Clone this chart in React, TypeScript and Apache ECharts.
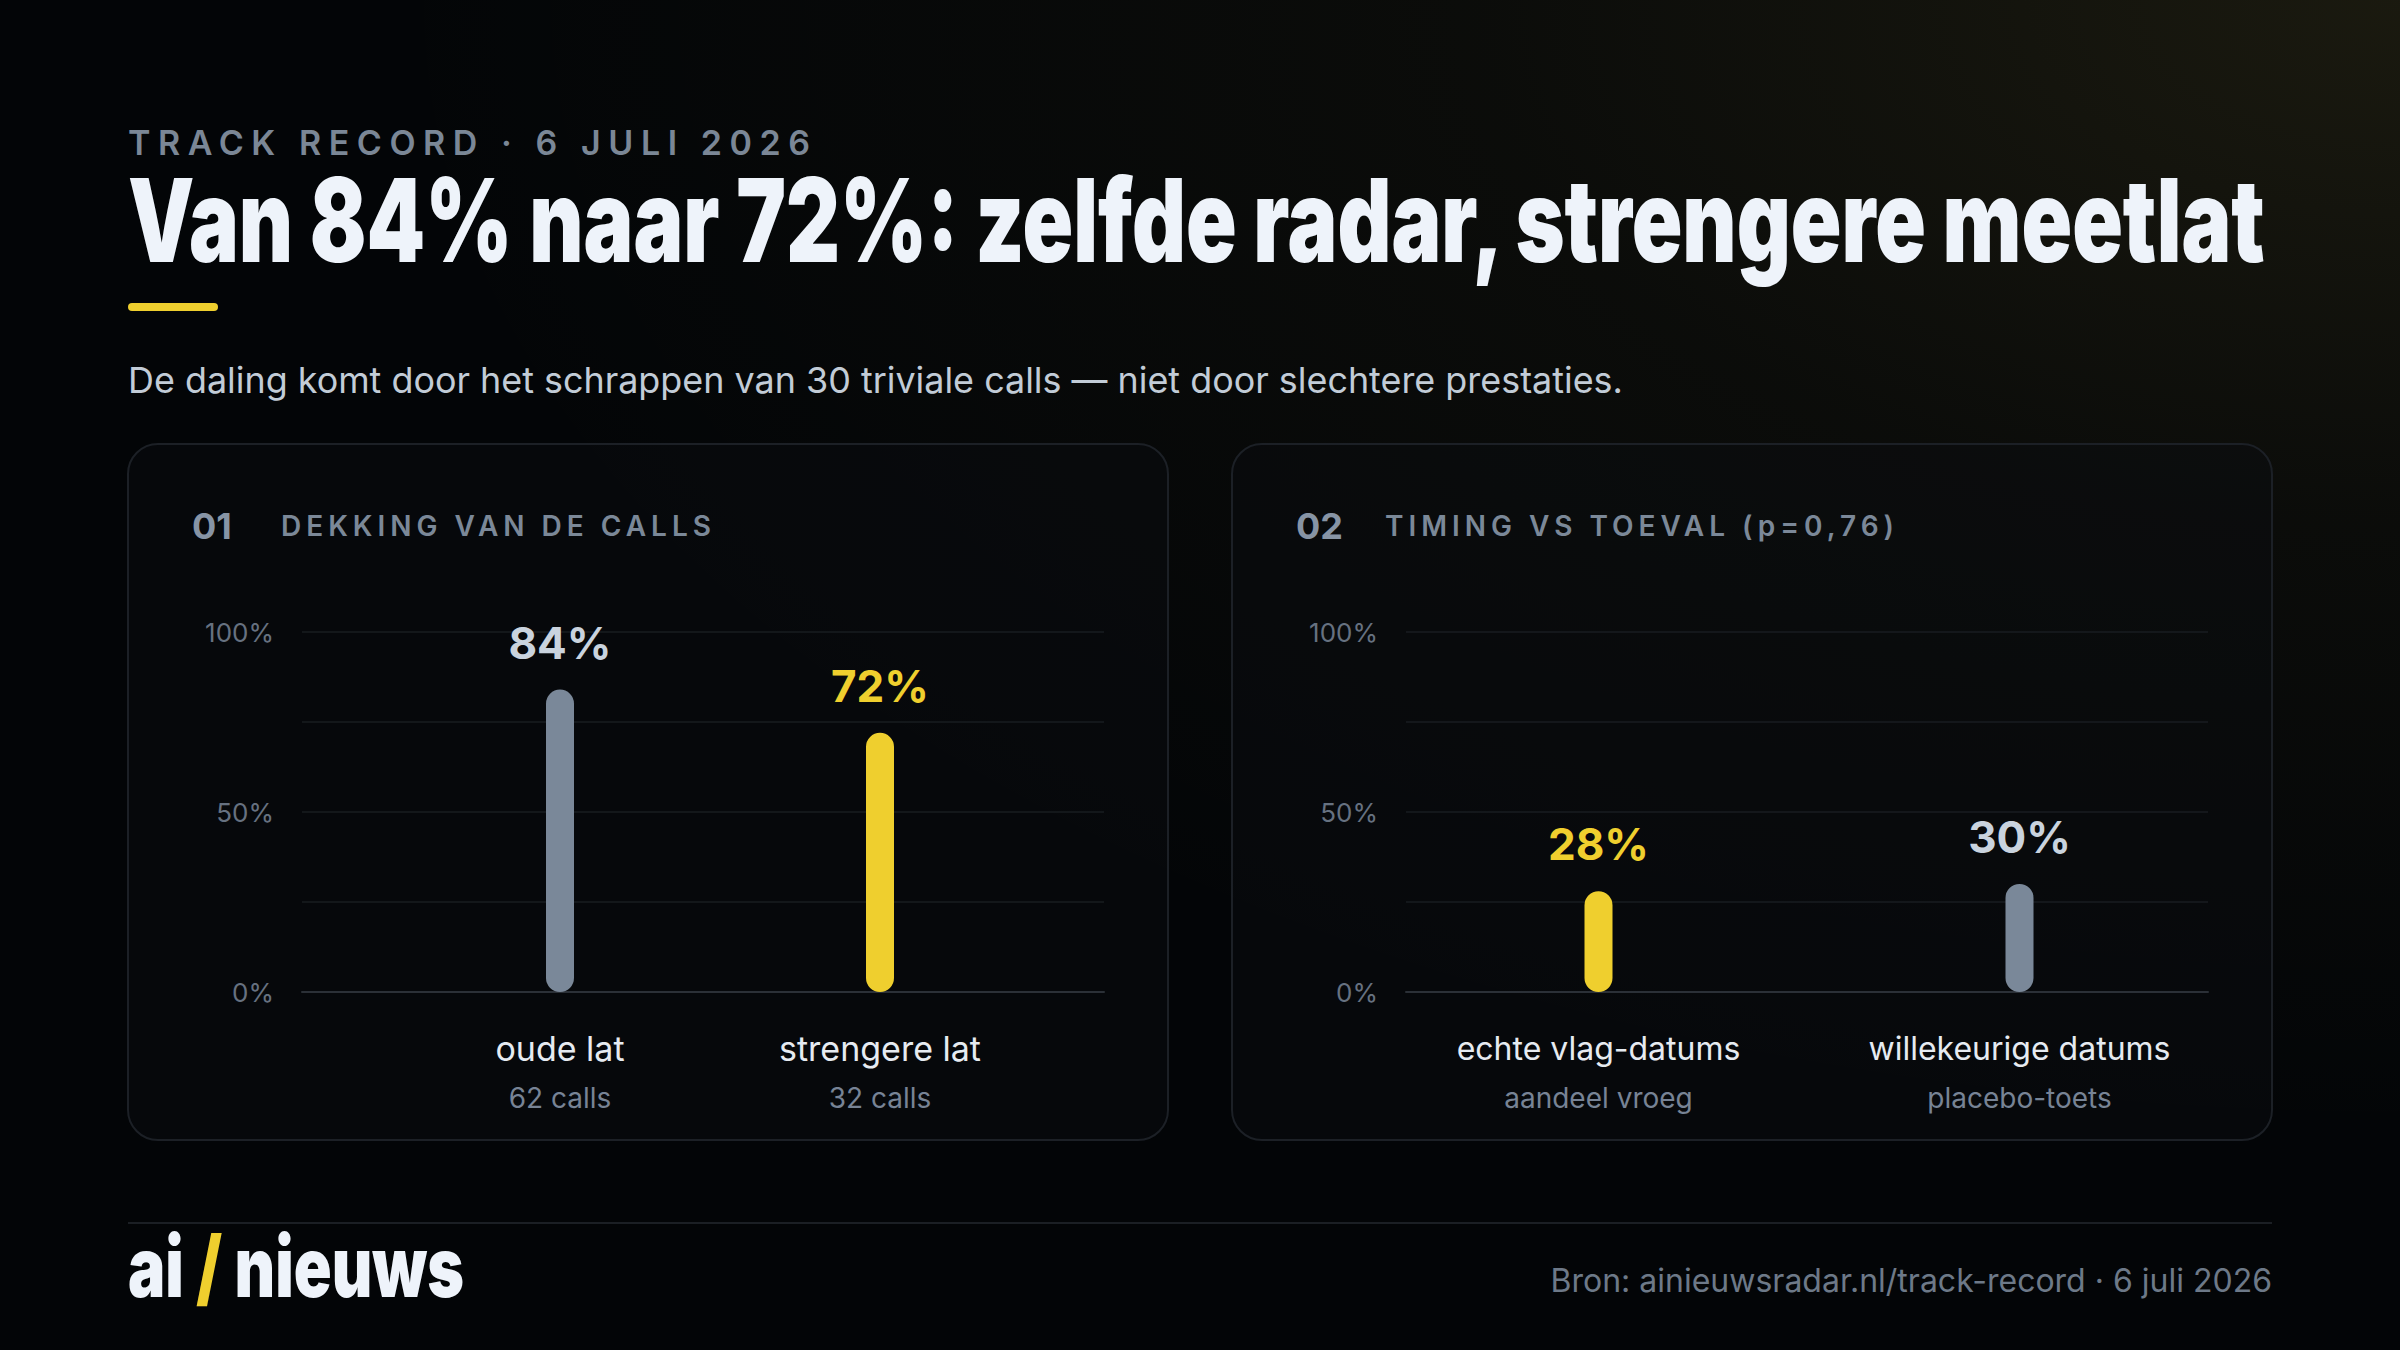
import React, { useEffect, useRef } from 'react';
import * as echarts from 'echarts';

// ---- content ----
const overline = 'TRACK RECORD · 6 JULI 2026';
const headline = 'Van 84% naar 72%: zelfde radar, strengere meetlat';
const subline =
  'De daling komt door het schrappen van 30 triviale calls — niet door slechtere prestaties.';
const sourceLine = 'Bron: ainieuwsradar.nl/track-record · 6 juli 2026';

const panelNumbers = ['01', '02'];
const panelTitles = ['DEKKING VAN DE CALLS', 'TIMING VS TOEVAL (p=0,76)'];

const coverageCategories = ['oude lat', 'strengere lat'];
const coverageNotes = ['62 calls', '32 calls'];
const coverageValues = [84, 72];

const timingCategories = ['echte vlag-datums', 'willekeurige datums'];
const timingNotes = ['aandeel vroeg', 'placebo-toets'];
const timingValues = [28, 30];

const yMin = 0;
const yMax = 100;
const yStep = 25;
const yLabelTicks = [0, 50, 100];

// ---- styling ----
const W = 2400;
const H = 1350;
const FONT = 'Inter, "Noto Sans", sans-serif';
const BG = '#030507';
const YELLOW = '#efcf2e';
const SLATE = '#7a8899';
const SLATE_LABEL = '#c9d3de';
const coverageColors = [SLATE, YELLOW];
const timingColors = [YELLOW, SLATE];

const PANEL_Y = 444;
const PANEL_W = 1040;
const PANEL_H = 696;
const panelXs = [128, 1232];
const PLOT_TOP = 632;
const PLOT_H = 360;
// bar band per panel (left, width)
const barBands = [
  [400, 640],
  [1388, 842],
];
const categoryFontSizes = [34, 32];

const ctx = document.createElement('canvas').getContext('2d')!;
function measure(text: string, font: string) {
  ctx.font = font;
  return ctx.measureText(text).width;
}

function fitSize(text: string, weight: number, base: number, target: number) {
  const w = measure(text, `${weight} ${base}px ${FONT}`);
  return Math.round(base * (target / w) * 10) / 10;
}

export default function App() {
  const ref = useRef<HTMLDivElement>(null);

  useEffect(() => {
    const el = ref.current!;
    const chart = echarts.init(el, undefined, { renderer: 'svg', width: W, height: H });

    const overlineFont = `600 34px ${FONT}`;
    const headerFont = `600 28px ${FONT}`;
    const spaced: Array<[string, string, number]> = [
      [overline, overlineFont, 682],
      [panelTitles[0], headerFont, 430],
      [panelTitles[1], headerFont, 509],
    ];
    const spacing = new Map<string, number>();
    spaced.forEach(([t, f, target]) => {
      const natural = measure(t, f);
      spacing.set(t, (target - natural) / (t.length - 1));
    });

    const titleFont = `900 116px ${FONT}`;
    const titleScale = 2142 / measure(headline, titleFont);
    const logoFont = `900 84px ${FONT}`;
    const logoScale = 336 / measure('ai / nieuws', logoFont);
    const subSize = fitSize(subline, 400, 34, 1497);
    const srcSize = fitSize(sourceLine, 400, 30, 721);

    const text = (x: number, y: number, t: string, font: string, fill: string, align = 'left', extra: any = {}) => ({
      type: 'text',
      x,
      y,
      z: 10,
      silent: true,
      ...extra,
      style: { text: t, font, fill, textAlign: align, textVerticalAlign: 'middle', verticalAlign: 'middle' },
    });

    const graphics: any[] = [
      {
        type: 'rect',
        z: -20,
        silent: true,
        shape: { x: 0, y: 0, width: W, height: H },
        style: { fill: BG },
      },
      {
        type: 'rect',
        z: -19,
        silent: true,
        shape: { x: 0, y: 0, width: W, height: H },
        style: {
          fill: new echarts.graphic.RadialGradient(1, 0, 0.85, [
            { offset: 0, color: 'rgba(235,210,90,0.10)' },
            { offset: 0.45, color: 'rgba(235,210,90,0.035)' },
            { offset: 1, color: 'rgba(235,210,90,0)' },
          ]),
        },
      },
      text(128, 142, overline, overlineFont, '#7b8796'),
      text(128, 220, headline, titleFont, '#eef3fa', 'left', { scaleX: titleScale }),
      {
        type: 'rect',
        z: 10,
        silent: true,
        shape: { x: 128, y: 303, width: 90, height: 8, r: 4 },
        style: { fill: YELLOW },
      },
      text(128, 380, subline, `400 ${subSize}px ${FONT}`, '#c2ccd7'),
      {
        type: 'line',
        z: 10,
        silent: true,
        shape: { x1: 128, y1: 1223, x2: 2272, y2: 1223 },
        style: { stroke: '#1b1f24', lineWidth: 2 },
      },
      {
        type: 'text',
        x: 128,
        y: 1266,
        z: 10,
        silent: true,
        scaleX: logoScale,
        style: {
          text: '{w|ai} {y|/} {w|nieuws}',
          font: logoFont,
          fill: '#eef3fa',
          textAlign: 'left',
          textVerticalAlign: 'middle',
          verticalAlign: 'middle',
          rich: {
            w: { font: logoFont, fill: '#eef3fa' },
            y: { font: logoFont, fill: YELLOW },
          },
        },
      },
      text(2272, 1280, sourceLine, `400 ${srcSize}px ${FONT}`, '#6d7988', 'right'),
    ];

    panelXs.forEach((px, i) => {
      graphics.push({
        type: 'rect',
        z: -10,
        silent: true,
        shape: { x: px, y: PANEL_Y, width: PANEL_W, height: PANEL_H, r: 30 },
        style: { fill: 'rgba(10,13,17,0.45)', stroke: '#1c2026', lineWidth: 2 },
      });
      graphics.push(text(px + 64, 526, panelNumbers[i], `700 36px ${FONT}`, '#8794a5'));
      graphics.push(text(px + 153, 526, panelTitles[i], headerFont, '#7b8898'));
    });

    const panels = [
      { cats: coverageCategories, notes: coverageNotes, values: coverageValues, colors: coverageColors },
      { cats: timingCategories, notes: timingNotes, values: timingValues, colors: timingColors },
    ];

    const grids: any[] = [];
    const xAxes: any[] = [];
    const yAxes: any[] = [];
    const series: any[] = [];

    panels.forEach((p, i) => {
      const px = panelXs[i];
      const backIdx = grids.length;
      // backdrop grid with the value scale and gridlines
      grids.push({ left: px + 174, top: PLOT_TOP, width: 802, height: PLOT_H, containLabel: false });
      xAxes.push({
        gridIndex: backIdx,
        type: 'category',
        data: [''],
        axisLine: { show: true, lineStyle: { color: '#2b3037', width: 2 } },
        axisTick: { show: false },
        axisLabel: { show: false },
        splitLine: { show: false },
      });
      yAxes.push({
        gridIndex: backIdx,
        type: 'value',
        min: yMin,
        max: yMax,
        interval: yStep,
        axisLine: { show: false },
        axisTick: { show: false },
        axisLabel: {
          formatter: (v: number) => (yLabelTicks.includes(v) ? `${v}%` : ''),
          color: '#667180',
          fontSize: 26,
          fontFamily: FONT,
          margin: 28,
        },
        splitLine: { lineStyle: { color: '#181c21', width: 1.5 } },
      });

      // bar grid
      const barIdx = grids.length;
      grids.push({ left: barBands[i][0], top: PLOT_TOP, width: barBands[i][1], height: PLOT_H, containLabel: false });
      xAxes.push({
        gridIndex: barIdx,
        type: 'category',
        data: p.cats,
        axisLine: { show: false },
        axisTick: { show: false },
        splitLine: { show: false },
        axisLabel: {
          interval: 0,
          margin: 32,
          formatter: (v: string, idx: number) => `{n|${v}}\n{s|${p.notes[idx]}}`,
          rich: {
            n: { fontSize: categoryFontSizes[i], color: '#e6ebf1', lineHeight: 49, fontFamily: FONT },
            s: { fontSize: 28, color: '#778395', lineHeight: 49, fontFamily: FONT },
          },
        },
      });
      yAxes.push({ gridIndex: barIdx, type: 'value', min: yMin, max: yMax, show: false, splitLine: { show: false } });

      series.push({
        type: 'bar',
        xAxisIndex: barIdx,
        yAxisIndex: barIdx,
        barWidth: 28,
        silent: true,
        data: p.values.map((v, k) => ({
          value: v,
          itemStyle: { color: p.colors[k], borderRadius: 14 },
          label: { color: p.colors[k] === YELLOW ? YELLOW : SLATE_LABEL },
        })),
        label: {
          show: true,
          position: 'top',
          distance: 25,
          formatter: '{c}%',
          fontSize: 44,
          fontWeight: 700,
          fontFamily: FONT,
        },
      });
    });

    chart.setOption({
      animation: false,
      backgroundColor: BG,
      textStyle: { fontFamily: FONT },
      grid: grids,
      xAxis: xAxes,
      yAxis: yAxes,
      series,
      graphic: { elements: graphics },
    });

    const applySpacing = () => {
      el.querySelectorAll('text').forEach((t) => {
        const s = spacing.get(t.textContent || '');
        if (s != null) (t as SVGTextElement).style.letterSpacing = `${s}px`;
      });
    };
    applySpacing();
    chart.on('finished', applySpacing);
    const timer = window.setTimeout(applySpacing, 50);

    return () => {
      window.clearTimeout(timer);
      chart.dispose();
    };
  }, []);

  return (
    <div
      ref={ref}
      style={{ position: 'fixed', left: 0, top: 0, width: W, height: H, background: BG }}
    />
  );
}
